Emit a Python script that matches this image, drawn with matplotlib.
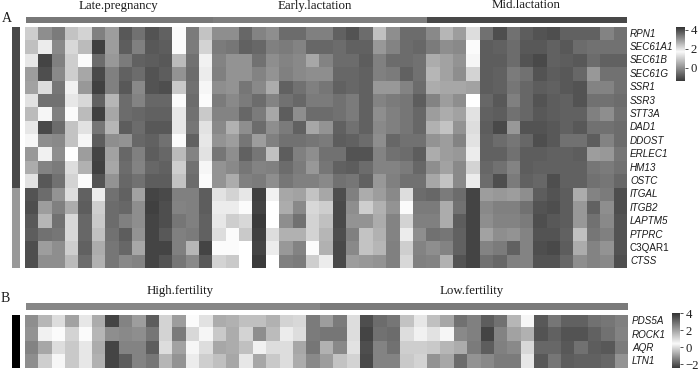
import numpy as np
import matplotlib
matplotlib.use("Agg")
import matplotlib.pyplot as plt
from matplotlib.colors import LinearSegmentedColormap

W, H = 700, 371
plt.rcParams['font.family'] = ['Liberation Serif', 'DejaVu Serif']

genes_a = ['RPN1', 'SEC61A1', 'SEC61B', 'SEC61G', 'SSR1', 'SSR3', 'STT3A', 'DAD1', 'DDOST',
           'ERLEC1', 'HM13', 'OSTC', 'ITGAL', 'ITGB2', 'LAPTM5', 'PTPRC', 'C3QAR1', 'CTSS']
genes_b = ['PDS5A', 'ROCK1', 'AQR', 'LTN1']
upright_genes = ['C3QAR1']

stages = ['Late.pregnancy', 'Early.lactation', 'Mid.lactation']
stage_sizes = [14, 16, 15]
fertility = ['High.fertility', 'Low.fertility']
fertility_sizes = [22, 23]

# Cell shades (0 = black, 255 = white)
level_a = [
 [200,135,115,190,205,120,150,80,105,75,90,245,115,190,135,135, 95,125,135,100,100,120,120,90,75,100,185,135,100,100,130,175,150, 215,105,70,105,85,75,70,90,90,90,125,105],
 [185,230,130,210,180,55,150,85,120,80,85,245,115,205,115,110, 90,95,120,115,125,95,95,100,90,90,145,125,100,95,115,135,130, 245,85,90,100,80,80,90,80,100,105,105,105],
 [225,60,120,200,245,100,145,115,90,85,80,180,105,235,125,140, 140,105,135,125,130,160,125,100,100,85,120,100,100,105,165,155,140, 240,85,85,100,75,65,90,85,80,100,90,90],
 [150,70,130,200,160,65,120,90,100,75,85,140,100,230,120,140, 140,125,140,120,130,135,135,95,95,90,120,115,90,105,175,155,135, 205,85,90,115,105,75,85,80,95,145,105,105],
 [155,215,110,235,145,55,120,80,130,75,70,195,105,240,135,140, 110,130,165,90,105,120,110,90,95,90,145,145,125,100,165,160,160, 155,85,90,110,95,85,90,80,75,125,125,105],
 [220,105,105,225,210,90,175,100,125,95,95,245,100,245,115,130, 115,100,125,105,95,115,115,105,115,90,125,115,110,85,125,150,135, 250,95,80,120,95,75,85,90,75,105,105,100],
 [180,240,120,245,180,55,160,100,95,90,90,225,105,195,125,125, 95,115,160,85,135,100,100,105,115,90,135,120,110,95,150,165,155, 220,90,85,105,95,80,85,90,90,120,135,105],
 [225,65,100,190,220,110,175,85,100,80,80,225,110,220,130,170, 135,100,135,115,90,160,140,90,105,90,130,120,110,95,170,190,140, 215,85,65,145,75,75,80,90,80,105,105,100],
 [240,135,130,190,240,85,135,140,95,90,105,245,90,225,140,150, 110,150,120,105,105,110,115,85,90,100,135,95,105,105,140,150,125, 220,90,100,110,95,70,80,105,105,85,125,100],
 [145,235,135,250,150,60,155,95,120,85,95,180,125,220,110,135, 90,110,185,85,120,135,105,105,75,75,125,105,100,85,165,150,145, 230,90,90,105,85,85,90,90,85,150,145,110],
 [165,125,115,215,170,55,160,100,125,95,90,200,105,240,140,130, 110,125,120,100,115,145,110,90,85,100,125,125,115,95,135,155,130, 205,95,105,125,85,90,90,90,90,110,115,105],
 [220,80,105,205,245,75,140,95,105,85,85,190,100,245,140,165, 120,115,135,110,120,120,130,105,110,90,145,120,105,105,160,190,130, 230,100,70,115,90,95,70,90,90,105,110,95],
 [75,100,140,215,90,230,105,90,155,60,65,120,120,85,220,205, 225,55,235,160,155,190,160,70,120,165,150,130,215,100,95,115,100, 60,150,145,150,135,85,75,85,165,125,115,70],
 [70,150,120,165,85,200,100,95,135,55,70,125,120,85,230,230, 245,60,250,165,130,210,200,65,135,200,170,140,245,115,115,165,105, 60,130,120,120,105,75,70,85,145,90,135,70],
 [80,175,105,210,95,195,100,120,135,60,70,110,120,90,225,200, 210,50,250,135,105,205,185,65,140,140,165,125,205,120,120,165,85, 60,135,125,125,115,70,80,85,145,105,130,75],
 [85,105,110,210,95,185,105,85,140,60,80,120,115,90,215,245, 195,55,215,170,170,205,175,70,120,190,170,125,230,135,105,110,90, 60,155,135,140,125,75,75,90,185,110,120,75],
 [70,150,135,200,90,165,110,95,160,60,60,120,175,60,245,245, 250,60,230,145,125,245,170,65,130,190,175,120,200,125,135,125,90, 60,125,115,90,125,70,65,85,165,125,140,75],
 [70,135,135,180,100,170,110,130,125,60,75,110,130,80,205,195, 250,50,250,120,115,200,230,65,150,145,140,120,210,120,125,170,75, 60,105,95,120,125,75,75,95,135,125,130,70],
]
level_b = [
 [135,175,215,155,225,165,60,125,150,85,205,150,245,220,165,170, 185,185,170,205,210,115,150,115,215,70,100,110,190,225,185,160,105, 120,85,105,175,240,80,110,90,90,105,110,120],
 [140,235,245,205,245,175,135,130,135,110,205,115,210,240,195,165, 205,135,180,230,215,115,110,110,215,60,105,100,215,235,220,240,130, 120,60,125,155,170,75,90,75,75,90,105,125],
 [125,160,215,195,225,165,60,125,125,85,215,155,240,215,160,165, 185,235,215,215,160,110,170,130,220,70,125,105,200,200,195,175,165, 115,85,120,130,210,95,95,80,105,85,80,115],
 [135,200,240,195,225,170,60,85,125,110,175,140,230,200,185,160, 225,160,195,215,165,130,150,190,205,65,125,125,195,205,140,160,100, 140,130,115,115,225,80,110,85,90,90,95,140],
]
side_groups_a = [12, 6]
side_groups_b = [4]
ticks_a = [0, 2, 4]
ticks_b = [-2, 0, 2, 4]

stage_shades = ['#787878', '#7e7e7e', '#484848']
fertility_shades = ['#868686', '#7a7a7a']
side_shades_a = ['#484848', '#999999']
side_shades_b = ['#000000']

fig = plt.figure(figsize=(W / 100, H / 100), dpi=100)


def pax(x0, y0, x1, y1):
    ax = fig.add_axes([x0 / W, 1 - y1 / H, (x1 - x0) / W, (y1 - y0) / H])
    ax.set_axis_off()
    return ax


def heat(levels, x0, y0, x1, y1):
    ax = pax(x0, y0, x1, y1)
    ax.imshow(np.array(levels), cmap='gray', vmin=-10, vmax=250, aspect='auto', interpolation='nearest')
    return ax


def top_bar(sizes, shades, x0, y0, x1, y1):
    ax = pax(x0, y0, x1, y1)
    left = 0
    for s, c in zip(sizes, shades):
        ax.barh(0, s, left=left, height=1, color=c, linewidth=0)
        left += s
    ax.set_xlim(0, sum(sizes))
    ax.set_ylim(-0.5, 0.5)


def side_bar(sizes, shades, x0, y0, x1, y1):
    ax = pax(x0, y0, x1, y1)
    bottom = 0
    for s, c in zip(sizes, shades):
        ax.bar(0, s, bottom=bottom, width=1, color=c, linewidth=0)
        bottom += s
    ax.set_ylim(sum(sizes), 0)
    ax.set_xlim(-0.5, 0.5)


def gene_labels(labels, x, y0, y1):
    n = len(labels)
    step = (y1 - y0) / n
    for i, t in enumerate(labels):
        fig.text(x / W, 1 - (y0 + step * (i + 0.5)) / H, t, fontsize=7.1, ha='left', va='center',
                 color='#1a1a1a', family='Liberation Sans',
                 style='normal' if t in upright_genes else 'italic')


def cbar(x0, y0, x1, y1, vmin, vmax, vwhite, ticks):
    cmap = LinearSegmentedColormap.from_list('c', [(0, '#3a3a3a'), ((vwhite - vmin) / (vmax - vmin), '#fafafa'), (1, '#333333')])
    ax = fig.add_axes([x0 / W, 1 - y1 / H, (x1 - x0) / W, (y1 - y0) / H])
    g = np.linspace(vmin, vmax, 256)[:, None]
    ax.imshow(g, cmap=cmap, aspect='auto', origin='lower', extent=[0, 1, vmin, vmax])
    ax.set_xticks([])
    ax.yaxis.tick_right()
    ax.set_yticks(ticks)
    ax.set_yticklabels([str(t).replace('-', '\u2212') for t in ticks], fontsize=9.2)
    ax.tick_params(axis='y', length=2.5, width=0.6, pad=1.5, color='#333333', labelcolor='#222222')
    for s in ax.spines.values():
        s.set_visible(False)


heat(level_a, 25, 27, 627, 268)
heat(level_b, 25, 314.5, 628, 368)
top_bar(stage_sizes, stage_shades, 26, 17, 627, 23)
top_bar(fertility_sizes, fertility_shades, 26, 303, 628, 310)
side_bar(side_groups_a, side_shades_a, 12, 27, 20, 268)
side_bar(side_groups_b, side_shades_b, 12, 314.5, 20, 368)
gene_labels(genes_a, 630, 27, 268)
gene_labels(genes_b, 632, 314.5, 368)
cbar(676, 27, 685, 81, -1.4, 4.3, 1.7, ticks_a)
cbar(672, 313.3, 680, 368, -2.45, 4.0, 0.4, ticks_b)

for t, x in zip(stages, [118, 314.5, 526]):
    fig.text(x / W, 1 - 5.5 / H, t, fontsize=9.3, ha='center', va='center', color='#1a1a1a')
for t, x in zip(fertility, [180, 472]):
    fig.text(x / W, 1 - 291 / H, t, fontsize=9.3, ha='center', va='center', color='#1a1a1a')
fig.text(1.5 / W, 1 - 18 / H, 'A', fontsize=10, ha='left', va='center', color='#1a1a1a')
fig.text(1 / W, 1 - 299 / H, 'B', fontsize=10, ha='left', va='center', color='#1a1a1a')

fig.savefig('out.png', dpi=100)
